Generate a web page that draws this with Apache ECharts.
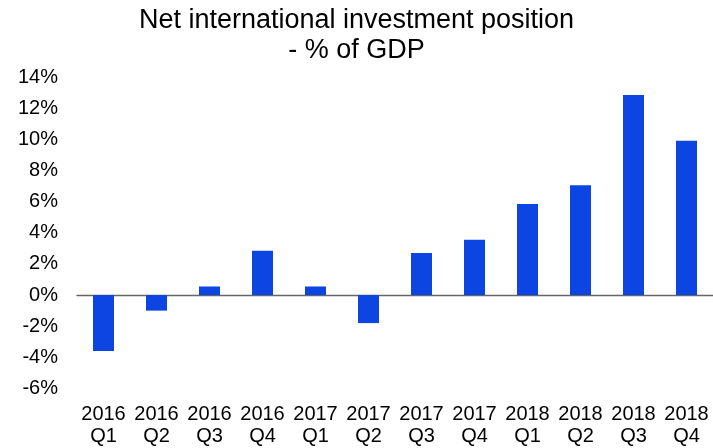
<!DOCTYPE html>
<html><head><meta charset="utf-8">
<script src="https://cdn.jsdelivr.net/npm/echarts@6/dist/echarts.min.js"></script>
<style>html,body{margin:0;padding:0;background:#fff}#c{width:713px;height:448px}</style>
</head><body><div id="c"></div>
<script>
const categories = ['2016\nQ1','2016\nQ2','2016\nQ3','2016\nQ4','2017\nQ1','2017\nQ2','2017\nQ3','2017\nQ4','2018\nQ1','2018\nQ2','2018\nQ3','2018\nQ4'];
const values = [-3.6, -1.0, 0.55, 2.85, 0.55, -1.8, 2.7, 3.55, 5.85, 7.05, 12.85, 9.9];
const titleText = 'Net international investment position\n- % of GDP';
const font = 'Liberation Sans, Arial, sans-serif';
const chart = echarts.init(document.getElementById('c'));
chart.setOption({
  animation: false,
  title: { text: titleText, left: 'center', top: 1,
    textStyle: { fontFamily: font, fontSize: 27, fontWeight: 'normal', color: '#000', lineHeight: 30 } },
  grid: { left: 77, right: 0, top: 77, bottom: 59.5 },
  xAxis: { type: 'category', data: categories,
    axisLine: { onZero: true, lineStyle: { color: '#666', width: 1.3 } },
    axisTick: { show: false },
    axisLabel: { fontFamily: font, fontSize: 20, color: '#000', lineHeight: 22, margin: 15, interval: 0 } },
  yAxis: { type: 'value', min: -6, max: 14, interval: 2,
    axisLine: { show: false }, axisTick: { show: false }, splitLine: { show: false },
    axisLabel: { fontFamily: font, fontSize: 20, color: '#000', margin: 19, formatter: v => v + '%' } },
  series: [{ type: 'bar', data: values, barWidth: 21, itemStyle: { color: '#0c45e1' } }]
});
</script></body></html>
